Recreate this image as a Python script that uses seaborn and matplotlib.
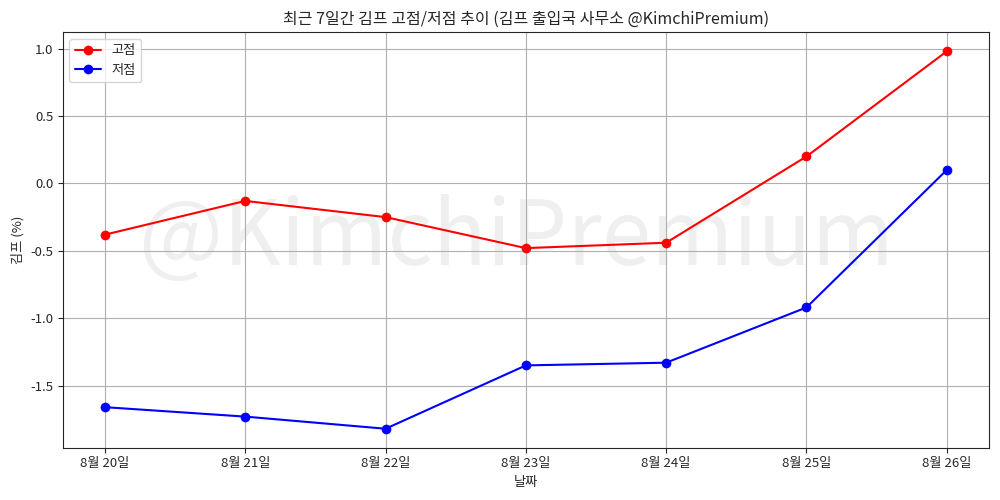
import pandas as pd
import seaborn as sns
import matplotlib.pyplot as plt

# ====================================================
# DATA
# ====================================================

dates = ["8월 20일", "8월 21일", "8월 22일", "8월 23일", "8월 24일", "8월 25일", "8월 26일"]
highs = [-0.38, -0.13, -0.25, -0.48, -0.44, 0.20, 0.98]
lows = [-1.66, -1.73, -1.82, -1.35, -1.33, -0.92, 0.10]

df = pd.DataFrame({"날짜": dates, "고점": highs, "저점": lows})
long_df = df.melt(id_vars="날짜", var_name="구분", value_name="김프")

# ====================================================
# STYLE
# ====================================================

sns.set_style("ticks")
plt.rcParams["font.family"] = ["Noto Sans CJK KR", "DejaVu Sans"]
plt.rcParams["axes.unicode_minus"] = False

# ====================================================
# PLOT
# ====================================================

fig, ax = plt.subplots(figsize=(10, 5), dpi=100)

sns.lineplot(
    data=long_df,
    x="날짜",
    y="김프",
    hue="구분",
    palette={"고점": "red", "저점": "blue"},
    marker="o",
    markersize=7,
    markeredgewidth=0,
    linewidth=1.5,
    ax=ax
)

ax.text(
    0.49, 0.5, "@KimchiPremium",
    transform=ax.transAxes,
    fontsize=64,
    color="gray",
    alpha=0.12,
    ha="center",
    va="center",
    zorder=0
)

ax.grid(True, color="#b0b0b0")
ax.set_yticks([-1.5, -1.0, -0.5, 0.0, 0.5, 1.0])
ax.tick_params(labelsize=9.5)
ax.set_title("최근 7일간 김프 고점/저점 추이 (김프 출입국 사무소 @KimchiPremium)", fontsize=11.5)
ax.set_xlabel("날짜", fontsize=9.5)
ax.set_ylabel("김프 (%)", fontsize=9.5)
ax.legend(title=None, loc="upper left", fontsize=9.5)

plt.tight_layout(pad=0.8)
plt.savefig("out.png")
